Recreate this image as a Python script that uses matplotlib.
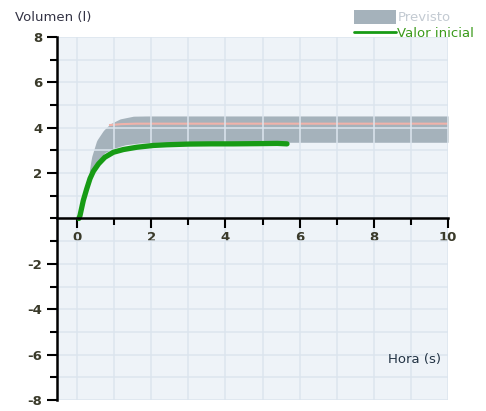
import numpy as np
import matplotlib.pyplot as plt
from matplotlib.ticker import MultipleLocator, FixedLocator

plt.rcParams['axes.unicode_minus'] = False

# datos
banda_x = [0.1, 0.13, 0.26, 0.39, 0.53, 0.71, 0.89, 1.16, 1.52, 1.9, 3.0, 6.0, 10.0]
banda_sup = [0.0, 0.35, 1.38, 2.7, 3.44, 3.88, 4.17, 4.39, 4.51, 4.52, 4.52, 4.52, 4.52]
banda_x_inf = [0.1, 0.3, 0.5, 0.75, 1.0, 1.3, 1.7, 2.2, 3.0, 6.0, 10.0]
banda_inf = [0.0, 1.6, 2.45, 2.9, 3.1, 3.25, 3.33, 3.36, 3.36, 3.36, 3.36]

medio_x = [0.89, 1.2, 1.6, 3.0, 6.0, 10.0]
medio_y = [4.12, 4.16, 4.18, 4.18, 4.18, 4.18]

hora = [0.05, 0.08, 0.17, 0.26, 0.35, 0.44, 0.58, 0.75, 0.98, 1.25, 1.61, 2.06,
        2.42, 3.0, 3.6, 4.2, 4.9, 5.4, 5.66]
volumen = [0.0, 0.13, 0.8, 1.3, 1.76, 2.08, 2.41, 2.7, 2.92, 3.04, 3.14, 3.22,
           3.25, 3.28, 3.29, 3.29, 3.3, 3.31, 3.29]

fig = plt.figure(figsize=(4.86, 4.11), dpi=100)
ax = fig.add_axes([57/486, 1-400/411, (448-57)/486, (400-37)/411])
ax.set_facecolor('#eef3f8')

xs = np.linspace(0.1, 10, 400)
sup = np.interp(xs, banda_x, banda_sup)
inf = np.interp(xs, banda_x_inf, banda_inf)
ax.fill_between(xs, inf, sup, color='#a5b2bb', lw=0, zorder=1, label='Previsto')
ax.plot(medio_x, medio_y, color='#f0b2aa', lw=1.5, zorder=2)

ax.set_xlim(-0.54, 10)
ax.set_ylim(-8, 8)
ax.xaxis.set_major_locator(FixedLocator([0, 2, 4, 6, 8, 10]))
ax.xaxis.set_minor_locator(MultipleLocator(1))
ax.yaxis.set_major_locator(FixedLocator([-8, -6, -4, -2, 2, 4, 6, 8]))
ax.yaxis.set_minor_locator(MultipleLocator(1))
ax.grid(True, which='both', color='#dce5ee', lw=1.1, zorder=3)
ax.set_axisbelow(False)

ax.plot(hora, volumen, color='#179b15', lw=3.8, solid_capstyle='round',
        solid_joinstyle='round', zorder=5, label='Valor inicial')

for s in ['top', 'right']:
    ax.spines[s].set_visible(False)
ax.spines['bottom'].set_position(('data', 0))
ax.spines['bottom'].set_linewidth(1.8)
ax.spines['left'].set_linewidth(1.8)
ax.spines['left'].set_zorder(6)
ax.spines['bottom'].set_zorder(6)
ax.tick_params(axis='both', which='both', width=1.5, color='black')
ax.tick_params(axis='both', which='major', length=7)
ax.tick_params(axis='both', which='minor', length=5)
ax.tick_params(axis='x', pad=2)
for t in ax.get_xticklabels() + ax.get_yticklabels():
    t.set_fontsize(9.5)
    t.set_fontweight('bold')
    t.set_color('#3a3a2a')

fig.text(15/486, 1-17/411, 'Volumen (l)', fontsize=9.5, color='#333344', va='center', ha='left')
ax.text(9.8, -6.2, 'Hora (s)', fontsize=9.5, color='#223344', ha='right', va='center')

leg = fig.legend(loc='upper right', bbox_to_anchor=(1.0, 1.005), frameon=False,
                 fontsize=9.5, handlelength=3.2, handleheight=1.3,
                 handletextpad=0.1, labelspacing=0.1)
leg.get_texts()[0].set_color('#c3cad2')
leg.get_texts()[1].set_color('#3a9a1a')
for ln in leg.get_lines():
    ln.set_linewidth(2)

fig.savefig('out.png', dpi=100)
